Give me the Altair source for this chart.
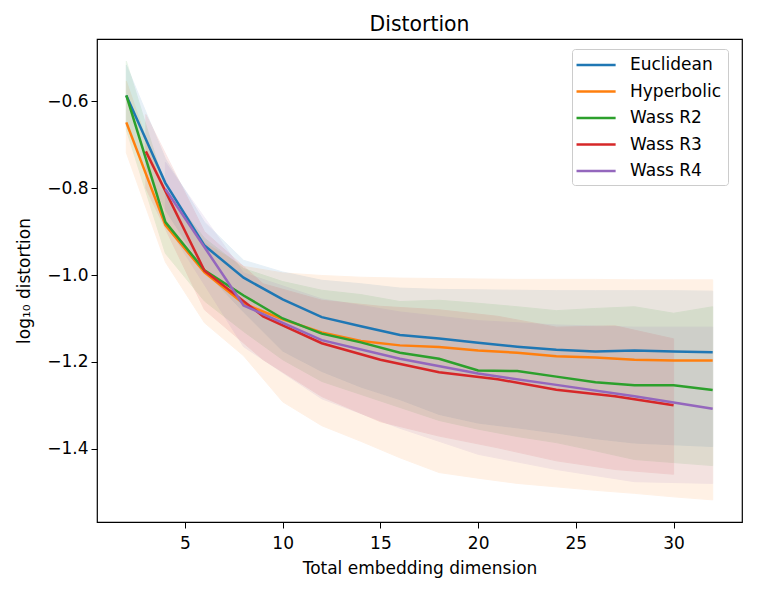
import altair as alt
import pandas as pd

SERIES = ["Euclidean", "Hyperbolic", "Wass R2", "Wass R3", "Wass R4"]
COLORS = ["#1f77b4", "#ff7f0e", "#2ca02c", "#d62728", "#9467bd"]

X_EVEN = [2, 4, 6, 8, 10, 12, 14, 16, 18, 20, 22, 24, 26, 28, 30, 32]
X_R3 = [3, 6, 9, 12, 15, 18, 21, 24, 27, 30]
X_R4 = [4, 8, 12, 16, 20, 24, 28, 32]

EUC_MEAN = [-0.586, -0.788, -0.932, -1.006, -1.056, -1.097, -1.118, -1.138, -1.146, -1.156, -1.165, -1.172, -1.176, -1.174, -1.176, -1.178]
EUC_HI = [-0.516, -0.732, -0.878, -0.966, -0.993, -1.012, -1.020, -1.030, -1.033, -1.034, -1.035, -1.036, -1.036, -1.036, -1.036, -1.037]
EUC_LO = [-0.655, -0.850, -0.990, -1.085, -1.175, -1.222, -1.258, -1.287, -1.321, -1.341, -1.352, -1.364, -1.377, -1.387, -1.391, -1.395]

HYP_MEAN = [-0.648, -0.885, -0.994, -1.066, -1.102, -1.132, -1.152, -1.162, -1.166, -1.174, -1.179, -1.187, -1.190, -1.195, -1.197, -1.197]
HYP_HI = [-0.553, -0.815, -0.925, -0.980, -0.995, -1.001, -1.005, -1.007, -1.008, -1.009, -1.010, -1.010, -1.010, -1.011, -1.011, -1.011]
HYP_LO = [-0.718, -0.970, -1.110, -1.186, -1.292, -1.347, -1.383, -1.421, -1.455, -1.468, -1.480, -1.488, -1.496, -1.503, -1.511, -1.518]

R2_MEAN = [-0.586, -0.878, -0.989, -1.047, -1.100, -1.135, -1.155, -1.179, -1.193, -1.220, -1.221, -1.234, -1.247, -1.254, -1.254, -1.265]
R2_HI = [-0.507, -0.800, -0.915, -0.985, -1.015, -1.035, -1.045, -1.061, -1.058, -1.065, -1.073, -1.082, -1.077, -1.073, -1.088, -1.073]
R2_LO = [-0.665, -0.950, -1.060, -1.130, -1.195, -1.245, -1.275, -1.305, -1.335, -1.355, -1.372, -1.386, -1.405, -1.425, -1.432, -1.439]

R3_MEAN = [-0.715, -0.990, -1.095, -1.157, -1.195, -1.224, -1.240, -1.264, -1.279, -1.300]
R3_HI = [-0.630, -0.900, -1.020, -1.058, -1.072, -1.080, -1.095, -1.120, -1.117, -1.147]
R3_LO = [-0.800, -1.080, -1.195, -1.280, -1.338, -1.371, -1.398, -1.428, -1.448, -1.459]

R4_MEAN = [-0.802, -1.070, -1.150, -1.193, -1.227, -1.253, -1.279, -1.308]
R4_HI = [-0.740, -0.995, -1.055, -1.085, -1.105, -1.115, -1.120, -1.120]
R4_LO = [-0.880, -1.165, -1.285, -1.353, -1.413, -1.448, -1.476, -1.480]

X_TICKS = [5, 10, 15, 20, 25, 30]
Y_TICKS = [-1.4, -1.2, -1.0, -0.8, -0.6]

groups = [
    ("Euclidean", X_EVEN, EUC_MEAN, EUC_LO, EUC_HI),
    ("Hyperbolic", X_EVEN, HYP_MEAN, HYP_LO, HYP_HI),
    ("Wass R2", X_EVEN, R2_MEAN, R2_LO, R2_HI),
    ("Wass R3", X_R3, R3_MEAN, R3_LO, R3_HI),
    ("Wass R4", X_R4, R4_MEAN, R4_LO, R4_HI),
]
rows = []
for order, (name, xs, m, lo, hi) in enumerate(groups):
    for x, a, b, c in zip(xs, m, lo, hi):
        rows.append({"series": name, "order": order, "x": x, "mean": a, "lo": b, "hi": c})
df = pd.DataFrame(rows)

FONT = "DejaVu Sans"

xscale = alt.Scale(domain=[0.5, 33.5], nice=False, zero=False)
yscale = alt.Scale(domain=[-1.569, -0.456], nice=False, zero=False)
cscale = alt.Scale(domain=SERIES, range=COLORS)

xaxis = alt.Axis(values=X_TICKS, title="Total embedding dimension", grid=False,
                 tickSize=6, tickColor="black", domain=False,
                 labelFontSize=17, labelFont=FONT, labelColor="black",
                 labelBaseline="alphabetic", labelPadding=20.5,
                 titleFontSize=17, titleFont=FONT, titleFontWeight="normal",
                 titleColor="black", titleY=51, titleBaseline="alphabetic")
yaxis = alt.Axis(values=Y_TICKS, format=".1f", title="log₁₀ distortion", grid=False,
                 tickSize=6, tickColor="black", domain=False,
                 labelFontSize=17, labelFont=FONT, labelColor="black",
                 labelPadding=3,
                 titleFontSize=17, titleFont=FONT, titleFontWeight="normal",
                 titleColor="black", titleX=-68, titleBaseline="alphabetic")

legend = alt.Legend(title=None, orient="none", legendX=475, legendY=10,
                    symbolType="M-1.35,0H3.25", symbolSize=289, symbolStrokeWidth=2.5,
                    symbolOpacity=1, labelFontSize=17, labelFont=FONT,
                    labelColor="black", labelOffset=32, rowPadding=8.5,
                    padding=6, strokeColor="#cccccc", fillColor="white",
                    cornerRadius=3)

base = alt.Chart(df)

bands = base.mark_area(opacity=0.1, strokeWidth=1).encode(
    x=alt.X("x:Q", scale=xscale, axis=xaxis),
    y=alt.Y("lo:Q", scale=yscale, axis=yaxis),
    y2="hi:Q",
    color=alt.Color("series:N", scale=cscale, legend=legend, sort=SERIES),
    stroke=alt.Stroke("series:N", scale=cscale, legend=None),
    detail="series:N",
    order="order:Q",
)

lines = base.mark_line(strokeWidth=2.5).encode(
    x=alt.X("x:Q", scale=xscale, axis=xaxis),
    y=alt.Y("mean:Q", scale=yscale, axis=yaxis),
    color=alt.Color("series:N", scale=cscale, legend=legend, sort=SERIES),
    detail="series:N",
)

chart = alt.layer(bands, lines).properties(
    width=645, height=483,
    title=alt.TitleParams("Distortion", fontSize=20.4, font=FONT, fontWeight="normal",
                          color="black", anchor="middle", offset=4, baseline="bottom",
                          dy=20),
    autosize=alt.AutoSizeParams(type="none"),
    padding={"left": 89, "top": 31, "right": 12, "bottom": 60},
).configure(background="white").configure_view(stroke="black", strokeWidth=1.2)

chart.save("out.html", embed_options={"renderer": "svg", "actions": False})
